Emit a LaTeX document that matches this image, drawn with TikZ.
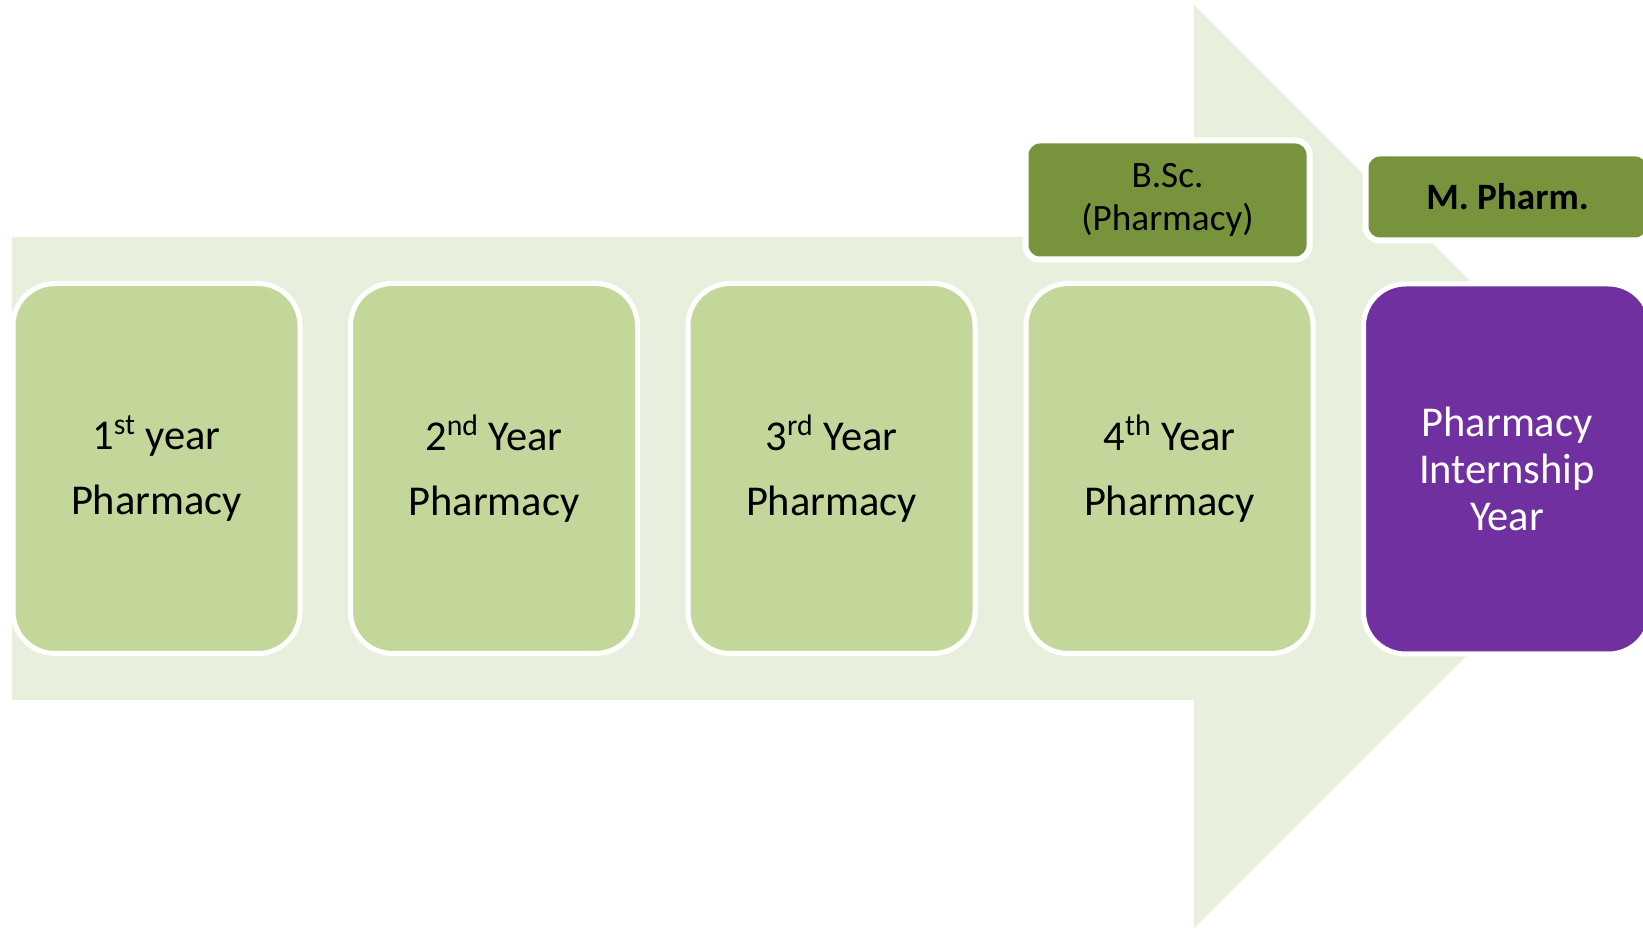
\documentclass[tikz,border=0pt]{standalone}
\usepackage{fontspec}
\setmainfont{Carlito}
\usepackage{tikz}
\usetikzlibrary{calc}
\definecolor{arrowgreen}{HTML}{E9EFDD}
\definecolor{yeargreen}{HTML}{C4D79B}
\definecolor{degreegreen}{HTML}{77933C}
\definecolor{internpurple}{HTML}{7030A0}
\tikzset{
  yearbox/.style={draw=white, line width=2.5pt, fill=yeargreen, rounded corners=21pt,
    minimum width=143.5pt, minimum height=185pt, inner sep=0pt, align=center,
    font=\fontsize{21.25}{32.5}\selectfont},
  internbox/.style={yearbox, fill=internpurple, text=white,
    font=\fontsize{21.25}{23.5}\selectfont},
  degreebox/.style={draw=white, line width=3pt, fill=degreegreen, rounded corners=7pt,
    minimum width=142pt, inner sep=0pt, align=center,
    font=\fontsize{18.6}{21.5}\selectfont}
}

\begin{document}
\begin{tikzpicture}[x=0.5pt, y=-0.5pt]
            \useasboundingbox (0, 0) rectangle (1643, 929);
            \clip (0, 0) rectangle (1643, 929);

            % big arrow
            \fill[arrowgreen] (12, 237) -- (1194, 237) -- (1194, 5) -- (1655.5, 466.5)
                -- (1194, 928) -- (1194, 700) -- (12, 700) -- cycle;

            %1
            \node[yearbox] (y1) at (156.5, 468.5) {1\textsuperscript{st} year\\Pharmacy};
            %2
            \node[yearbox] (y2) at (494, 468.5) {2\textsuperscript{nd} Year\\Pharmacy};
            %3
            \node[yearbox] (y3) at (831.5, 468.5) {3\textsuperscript{rd} Year\\Pharmacy};
            %4
            \node[yearbox] (y4) at (1169.5, 468.5) {4\textsuperscript{th} Year\\Pharmacy};
            %internship
            \node[internbox] (intern) at (1507, 469) {Pharmacy\\Internship\\Year};

            % degrees
            \node[degreebox, minimum height=59.5pt] (bsc) at (1167.5, 200) {B.Sc.\\(Pharmacy)};
            \node[degreebox, minimum height=43.5pt, font=\fontsize{18.6}{22}\selectfont\bfseries]
                (mpharm) at (1507.5, 197) {M. Pharm.};
        \end{tikzpicture}
\end{document}
